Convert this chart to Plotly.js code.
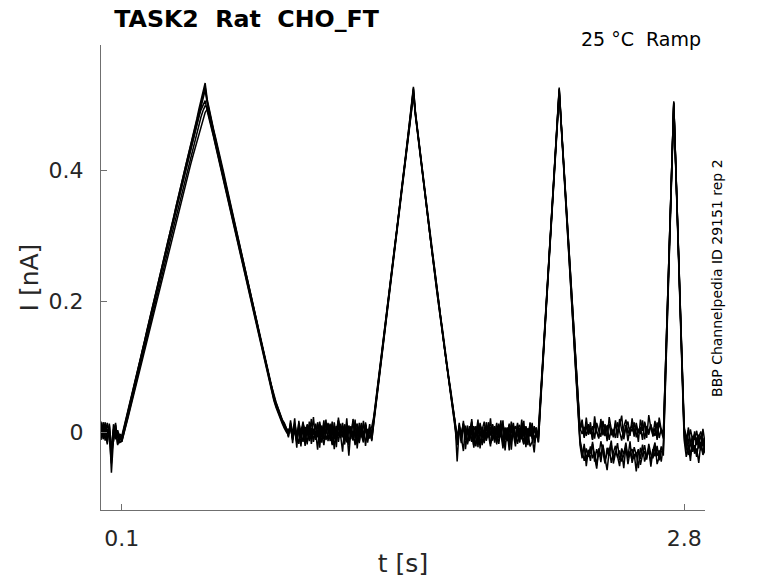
<!DOCTYPE html>
<html>
<head>
<meta charset="utf-8">
<script src="https://cdn.plot.ly/plotly-3.0.1.min.js"></script>
<style>
  html, body { margin: 0; padding: 0; background: #fff; }
  #chart { width: 778px; height: 583px; }
</style>
</head>
<body>
<div id="chart"></div>
<script>
// Ramp protocol sweeps, sampled every 10 ms from t = 0 s; values in pA
const T0 = 0;
const DT = 0.01;

const sweepA = [
  4, -8, 12, -3, 9, -62, -10, 6, -4, -12,
  -8, 6, 19, 34, 46, 59, 73, 88, 100, 113,
  127, 142, 154, 167, 181, 196, 208, 221, 235, 250,
  262, 275, 290, 303, 315, 329, 344, 357, 369, 383,
  398, 410, 423, 438, 452, 464, 478, 493, 505, 518,
  533, 508, 492, 479, 463, 450, 437, 421, 408, 395,
  380, 366, 353, 337, 322, 309, 295, 280, 265, 251,
  238, 223, 208, 195, 181, 166, 150, 137, 124, 108,
  95, 80, 67, 58, 46, 37, 29, 19, 14, 6,
  2, 9, -12, 6, -7, 14, -2, -15, 8, -5,
  11, -18, 3, -9, 15, -4, 7, -11, -1, 12,
  -14, 5, -26, 9, -6, 13, -8, 2, -13, 10,
  -3, 16, -9, 4, -17, 7, -5, 11, -7, 3,
  -5, 22, 46, 74, 98, 127, 151, 179, 203, 232,
  256, 284, 308, 337, 361, 389, 413, 442, 466, 495,
  527, 488, 461, 432, 407, 379, 355, 327, 303, 276,
  253, 226, 204, 178, 156, 130, 108, 83, 62, 37,
  15, -45, 6, -9, 12, -4, -16, 9, -3, -21,
  5, -11, 2, -20, 8, -6, 10, -18, -9, 4,
  -14, 10, -2, -25, 7, -8, 11, -13, 3, -6,
  14, -10, 5, -18, 9, -1, -22, -15, 6, -8,
  -5, 49, 100, 155, 206, 261, 312, 367, 418, 473,
  526, 471, 421, 367, 317, 263, 213, 159, 109, 55,
  6, -3, 8, -6, 12, -3, 9, -10, 14, 2,
  -7, 17, -4, 10, -12, 6, -2, 13, -9, 20,
  3, -6, 11, -14, 7, 1, 15, -8, 5, -3,
  18, -11, 9, 0, 12, -7, 6, -9, 14, 2,
  -10, 94, 195, 299, 400, 505, 403, 304, 202, 103,
  2, -14, 3, -20, -6, -12, 2, -18, -5, -22,
  -10
];

const sweepB = [
  -6, 10, -2, 14, -9, -48, 5, -11, 3, -8,
  -12, 3, 15, 28, 42, 55, 69, 82, 95, 109,
  122, 136, 149, 163, 176, 190, 203, 217, 230, 244,
  257, 271, 284, 298, 311, 325, 338, 352, 365, 379,
  392, 406, 419, 433, 446, 460, 473, 487, 500, 512,
  522, 502, 487, 473, 459, 445, 431, 417, 403, 389,
  375, 361, 347, 333, 318, 304, 290, 276, 261, 247,
  233, 219, 204, 190, 176, 161, 147, 133, 119, 104,
  90, 77, 64, 53, 43, 34, 25, 17, 11, 4,
  -1, 11, -6, 4, -13, 9, -1, 16, -8, 2,
  -12, 6, -4, 13, -7, 1, -16, 10, -3, 14,
  -5, 7, -11, 3, 18, -9, 0, -19, 8, -2,
  9, -12, 5, 13, -8, 2, -14, 11, -5, 7,
  -9, 18, 44, 70, 96, 122, 148, 174, 200, 226,
  252, 278, 304, 330, 356, 382, 408, 434, 460, 488,
  518, 482, 455, 428, 401, 375, 349, 323, 297, 271,
  246, 221, 197, 173, 149, 125, 101, 78, 55, 32,
  10, -14, 7, -3, 12, -9, 4, -14, 10, -1,
  -22, 6, 11, -7, 3, -13, 15, -5, -2, 9,
  -16, 4, -8, 12, -4, 7, -15, 2, 14, -10,
  5, -6, 10, -3, -14, 6, -4, 8, -11, 1,
  -8, 46, 98, 152, 203, 257, 309, 362, 414, 469,
  521, 468, 417, 364, 313, 260, 209, 156, 105, 52,
  2, 14, -7, 10, -4, 6, -11, 13, 0, -8,
  16, 3, -6, 9, 12, -5, 4, -9, 15, 1,
  -13, 8, 19, -2, 5, 11, -7, 14, -2, 8,
  -12, 16, 3, -4, 10, 2, -6, 15, -9, 5,
  -3, 97, 199, 301, 402, 502, 405, 303, 204, 101,
  6, -5, -16, 4, -11, -3, -19, -8, 1, -14,
  -24
];

const sweepC = [
  9, -4, 15, -10, 2, -30, 12, -7, -2, -16,
  -14, -3, 9, 22, 35, 48, 61, 74, 87, 100,
  113, 126, 139, 152, 165, 178, 191, 204, 217, 230,
  243, 256, 269, 282, 295, 308, 321, 334, 347, 359,
  371, 384, 396, 408, 420, 432, 444, 456, 467, 478,
  488, 493, 482, 467, 453, 439, 425, 411, 397, 383,
  369, 355, 341, 327, 313, 299, 285, 271, 257, 243,
  229, 215, 201, 187, 173, 159, 145, 131, 117, 103,
  89, 75, 62, 50, 40, 31, 23, 15, 8, 3,
  -2, 7, -9, 5, -16, 8, -4, 12, -11, 3,
  -14, 6, -2, 10, -8, 16, -5, -20, 4, 9,
  -6, 11, -3, -13, 7, -1, 14, -10, 2, -36,
  5, -9, 12, 0, -15, 8, -4, 13, -7, 1,
  -12, 14, 40, 66, 92, 118, 144, 170, 196, 222,
  248, 274, 300, 326, 352, 378, 404, 430, 456, 484,
  514, 486, 458, 431, 404, 378, 352, 326, 300, 274,
  249, 224, 199, 175, 151, 127, 103, 80, 57, 34,
  12, -6, 3, -17, 8, -5, 10, -11, 4, -24,
  6, -3, 11, -8, 2, -13, 7, -4, 12, -9,
  1, -18, 6, 10, -12, 3, -28, 8, -2, -14,
  4, 11, -7, -19, 6, -3, 9, -10, 2, 7,
  -15, 44, 96, 150, 201, 255, 307, 360, 411, 466,
  518, 466, 414, 362, 310, 258, 206, 154, 102, 48,
  -15, -35, -22, -41, -28, -33, -18, -45, -26, -38,
  -14, -31, -48, -24, -36, -19, -42, -29, -37, -52,
  -25, -34, -16, -40, -30, -44, -23, -35, -27, -50,
  -32, -20, -39, -28, -46, -26, -37, -21, -43, -30,
  -28, 80, 186, 292, 396, 500, 400, 298, 198, 96,
  -6, -28, -12, -36, -18, -30, -8, -25, -15, -33,
  -12
];

const sweepD = [
  -2, 7, -13, 5, -6, -22, 3, 11, -9, -5,
  -10, 3, 17, 30, 44, 57, 71, 84, 98, 111,
  125, 138, 152, 165, 179, 192, 206, 219, 233, 246,
  260, 273, 286, 300, 313, 326, 340, 353, 366, 380,
  393, 406, 419, 432, 445, 457, 469, 481, 492, 500,
  506, 490, 478, 465, 451, 437, 423, 409, 395, 381,
  367, 353, 339, 325, 311, 297, 283, 268, 254, 240,
  226, 212, 198, 184, 170, 156, 142, 128, 114, 100,
  86, 73, 60, 48, 38, 29, 21, 13, 6, 0,
  -3, 6, -10, 13, -2, -18, 4, 9, -7, 11,
  -1, -9, 5, -3, 12, -13, 7, -6, 14, 3,
  -8, 16, -4, 9, -15, 5, -2, 11, -12, 8,
  -6, 2, -20, 10, -3, 14, -9, 6, -16, 2,
  8, 24, 49, 75, 101, 127, 153, 179, 205, 231,
  257, 283, 309, 335, 361, 387, 413, 439, 465, 492,
  523, 485, 459, 432, 405, 378, 351, 325, 299, 273,
  248, 223, 198, 174, 150, 126, 102, 79, 56, 33,
  11, -8, 9, -3, 14, -12, 1, 5, -15, 9,
  -2, 12, -6, 3, 16, -10, -4, 8, -11, -3,
  14, -7, 2, -13, 6, -1, 11, -12, 4, 9,
  -5, -16, 10, -2, 7, -9, 13, -4, 9, -7,
  3, 52, 104, 156, 208, 260, 313, 366, 420, 473,
  523, 470, 418, 366, 314, 262, 210, 158, 106, 52,
  -12, -28, -44, -25, -38, -22, -40, -30, -51, -27,
  -36, -19, -43, -33, -24, -47, -31, -21, -39, -28,
  -45, -35, -23, -49, -30, -26, -41, -32, -55, -24,
  -37, -29, -42, -18, -34, -40, -22, -36, -28, -45,
  -20, 84, 188, 292, 398, 503, 402, 302, 202, 100,
  0, -22, -35, -15, -30, -20, -38, -14, -26, -9,
  -31
];

const sweepE = [
  -12, 15, 3, -16, 11, -40, -5, 14, -18, -3,
  -6, 7, 21, 33, 48, 60, 75, 86, 101, 114,
  128, 140, 155, 168, 182, 194, 209, 222, 236, 248,
  263, 276, 289, 303, 317, 330, 343, 356, 371, 384,
  397, 411, 424, 437, 451, 465, 477, 491, 504, 515,
  527, 505, 489, 475, 461, 447, 432, 419, 405, 391,
  377, 363, 349, 335, 320, 306, 292, 278, 263, 249,
  235, 221, 206, 192, 178, 163, 149, 135, 121, 106,
  92, 78, 66, 55, 45, 35, 27, 18, 12, 5,
  -8, 18, -4, 21, -15, 7, -22, 13, 2, -19,
  16, -7, 23, -12, 4, -24, 10, -3, 19, -14,
  6, -20, 15, -9, 22, -5, -30, 12, -16, 8,
  -11, 20, -2, -18, 14, -8, 17, -21, 5, -10,
  3, 20, 45, 72, 97, 124, 150, 176, 202, 229,
  255, 281, 307, 334, 360, 386, 412, 439, 465, 493,
  525, 486, 458, 431, 404, 377, 351, 325, 299, 273,
  248, 223, 199, 174, 150, 126, 103, 80, 57, 35,
  13, -20, 11, -14, 17, -26, 3, -9, 20, -12,
  9, -23, 14, -4, -17, 10, -8, 21, -13, 2,
  -19, 13, -6, 18, -28, 5, -11, 16, -3, -22,
  11, -15, 19, -7, 2, -20, 15, -9, -31, 6,
  -10, 47, 99, 153, 205, 258, 311, 364, 416, 470,
  524, 469, 419, 365, 315, 261, 211, 157, 107, 53,
  4, 19, -9, 22, -3, 15, -12, 24, 1, -10,
  20, -5, 12, -14, 23, 4, -8, 18, -2, 11,
  25, -11, 8, 16, -6, 21, -1, 10, -15, 19,
  2, 14, -9, 26, 6, -4, 17, -12, 22, 3,
  -6, 96, 197, 300, 401, 503, 404, 303, 203, 102,
  10, -25, 7, -15, -30, 1, -20, -4, -28, 5,
  -17
];

const sweepF = [
  16, -11, 6, -19, 13, -25, -14, 3, -20, -9,
  -15, -2, 11, 24, 37, 50, 62, 76, 89, 102,
  116, 129, 142, 156, 169, 182, 196, 209, 222, 236,
  249, 262, 275, 289, 302, 315, 328, 342, 355, 368,
  381, 394, 407, 420, 433, 446, 458, 470, 481, 491,
  498, 496, 484, 470, 456, 442, 428, 414, 400, 386,
  372, 358, 344, 330, 316, 302, 288, 274, 260, 246,
  232, 218, 203, 189, 175, 161, 147, 133, 119, 105,
  91, 78, 65, 53, 42, 33, 24, 16, 9, 2,
  -6, 14, -17, 9, -24, 17, -10, 4, -21, 12,
  -5, 20, -15, 2, -27, 11, -8, 18, -12, -1,
  13, -18, 6, -23, 17, -6, 9, -14, 21, -20,
  4, -13, 19, -25, 8, -4, -16, 15, -9, 12,
  -14, 16, 42, 68, 94, 120, 146, 172, 198, 224,
  250, 276, 302, 328, 354, 380, 406, 432, 458, 486,
  516, 483, 456, 429, 402, 376, 350, 324, 298, 272,
  247, 222, 197, 173, 149, 125, 101, 78, 55, 32,
  9, -17, 14, -8, -29, 10, -19, 3, 16, -13,
  -6, 19, -25, 8, -12, 15, -3, -22, 11, -16,
  7, -9, 18, -20, 2, -14, 13, -27, 9, -5,
  -18, 6, -11, 17, -23, 4, -7, 14, -17, 0,
  -16, 43, 95, 149, 200, 254, 306, 359, 410, 465,
  516, 465, 413, 361, 309, 257, 205, 153, 101, 46,
  -20, -40, -18, -52, -27, -44, -15, -38, -56, -25,
  -46, -21, -37, -58, -29, -13, -48, -32, -17, -43,
  -30, -55, -22, -39, -14, -47, -33, -60, -26, -41,
  -19, -45, -35, -24, -53, -28, -16, -49, -38, -22,
  -36, 78, 184, 290, 395, 498, 398, 296, 196, 94,
  -12, -38, -20, -44, -10, -33, -25, -47, -16, -35,
  -28
];

const sweeps = [sweepA, sweepB, sweepC, sweepD, sweepE, sweepF];

const xTicks = [0.1, 2.8];
const xTickText = ['0.1', '2.8'];
const yTicks = [0, 0.2, 0.4];
const yTickText = ['0', '0.2', '0.4'];

const FONT = 'DejaVu Sans, sans-serif';
const AXIS_GREY = '#6f6f6f';
const LABEL = '#262626';

const traces = sweeps.map(s => ({
  type: 'scatter',
  mode: 'lines',
  x0: T0,
  dx: DT,
  y: s.map(v => v / 1000),   // pA -> nA
  line: { color: '#000', width: 1.5 },
  hoverinfo: 'skip',
  showlegend: false
}));

const layout = {
  width: 778,
  height: 583,
  margin: { l: 101, r: 73, t: 45, b: 73 },
  paper_bgcolor: '#fff',
  plot_bgcolor: '#fff',
  font: { family: FONT, color: LABEL },
  showlegend: false,
  title: {
    text: 'TASK2\u00a0\u00a0Rat\u00a0\u00a0CHO_FT',
    font: { family: FONT, size: 23.7, color: '#000', weight: 'bold' },
    xref: 'paper', x: 0.022, xanchor: 'left',
    yref: 'container', y: 0.968, yanchor: 'middle'
  },
  xaxis: {
    range: [0, 2.9],
    tickvals: xTicks,
    ticktext: xTickText,
    ticks: 'inside', ticklen: 6, tickcolor: AXIS_GREY, tickwidth: 1,
    ticklabelstandoff: 9,
    tickfont: { family: FONT, size: 22, color: LABEL },
    showline: true, linecolor: AXIS_GREY, linewidth: 1,
    showgrid: false, zeroline: false,
    title: { text: 't [s]', font: { family: FONT, size: 25, color: LABEL }, standoff: 4 }
  },
  yaxis: {
    range: [-0.119, 0.591],
    tickvals: yTicks,
    ticktext: yTickText,
    ticks: 'inside', ticklen: 6, tickcolor: AXIS_GREY, tickwidth: 1,
    ticklabelstandoff: 12,
    tickfont: { family: FONT, size: 22, color: LABEL },
    showline: true, linecolor: AXIS_GREY, linewidth: 1,
    showgrid: false, zeroline: false,
    title: { text: 'I [nA]', font: { family: FONT, size: 25, color: LABEL }, standoff: 2 }
  },
  annotations: [
    {
      text: '25 °C\u00a0\u00a0Ramp',
      xref: 'paper', yref: 'paper', x: 0.997, y: 1.012,
      xanchor: 'right', yanchor: 'middle', showarrow: false,
      font: { family: FONT, size: 19, color: '#000' }
    },
    {
      text: 'BBP Channelpedia ID 29151 rep 2',
      xref: 'paper', yref: 'paper', x: 1.019, y: 0.5,
      xanchor: 'center', yanchor: 'middle', textangle: -90, showarrow: false,
      font: { family: FONT, size: 14, color: '#000' }
    }
  ]
};

Plotly.newPlot('chart', traces, layout, { displayModeBar: false, staticPlot: true });
</script>
</body>
</html>
